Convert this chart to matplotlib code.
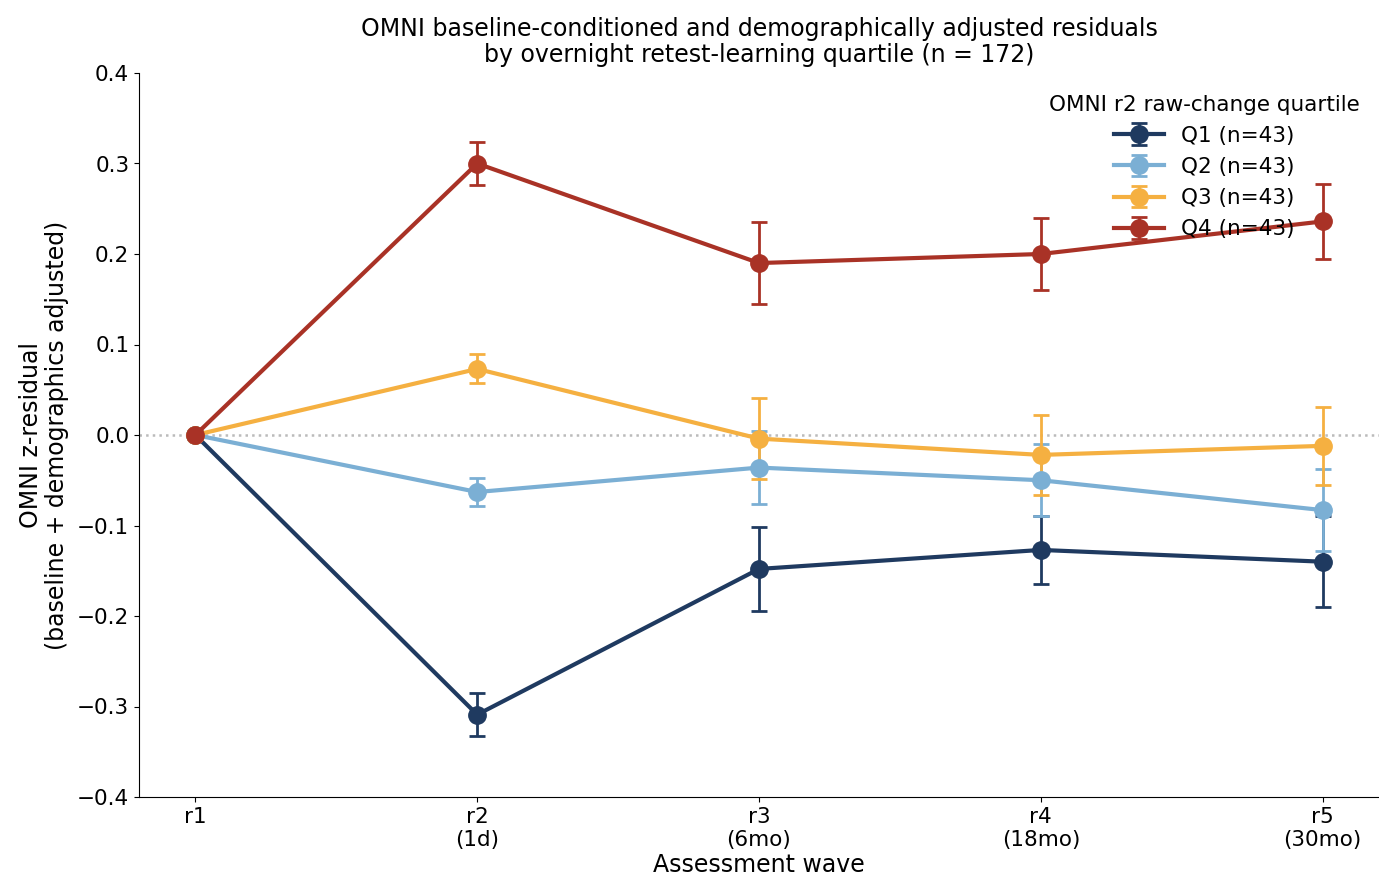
import matplotlib.pyplot as plt
import numpy as np

waves = ['r1', 'r2\n(1d)', 'r3\n(6mo)', 'r4\n(18mo)', 'r5\n(30mo)']
labels = ['Q1 (n=43)', 'Q2 (n=43)', 'Q3 (n=43)', 'Q4 (n=43)']
colors = ['#1f3a60', '#7bafd4', '#f5b041', '#a93226']

q1_mean = [0.0, -0.309, -0.148, -0.127, -0.140]
q1_err = [0.0, 0.024, 0.046, 0.038, 0.050]
q2_mean = [0.0, -0.063, -0.036, -0.050, -0.083]
q2_err = [0.0, 0.015, 0.040, 0.040, 0.045]
q3_mean = [0.0, 0.073, -0.004, -0.022, -0.012]
q3_err = [0.0, 0.016, 0.045, 0.044, 0.043]
q4_mean = [0.0, 0.300, 0.190, 0.200, 0.236]
q4_err = [0.0, 0.024, 0.045, 0.040, 0.041]

means = [q1_mean, q2_mean, q3_mean, q4_mean]
errs = [q1_err, q2_err, q3_err, q4_err]

plt.rcParams['font.size'] = 15.5
fig = plt.figure(figsize=(13.79, 8.83), dpi=100)
ax = fig.add_axes([139/1379, 1-797/883, 1-139/1379, (797-73)/883])

x = np.arange(len(waves))
ax.axhline(0, color='#bbbbbb', linestyle=':', linewidth=1.8, zorder=0)
for m, e, c, lab in zip(means, errs, colors, labels):
    ax.errorbar(x, m, yerr=e, color=c, label=lab, marker='o', markersize=12.5,
                linewidth=3, capsize=6, capthick=2, elinewidth=2)

ax.set_xticks(x)
ax.set_xticklabels(waves)
ax.set_xlim(-0.2, 4.2)
ax.set_ylim(-0.4, 0.4)
ax.set_xlabel('Assessment wave', fontsize=17, labelpad=2)
ax.set_ylabel('OMNI z-residual\n(baseline + demographics adjusted)', fontsize=17,
              linespacing=1.1, labelpad=6)
ax.set_title('OMNI baseline-conditioned and demographically adjusted residuals\n'
             'by overnight retest-learning quartile (n = 172)', fontsize=17,
             linespacing=1.1, pad=8)
ax.spines['top'].set_visible(False)
ax.spines['right'].set_visible(False)
ax.legend(title='OMNI r2 raw-change quartile', loc='upper right', frameon=False,
          fontsize=15.5, title_fontsize=15.5, bbox_to_anchor=(1.0, 0.997),
          labelspacing=0.52, handlelength=2.3)

fig.savefig('out.png', dpi=100)
